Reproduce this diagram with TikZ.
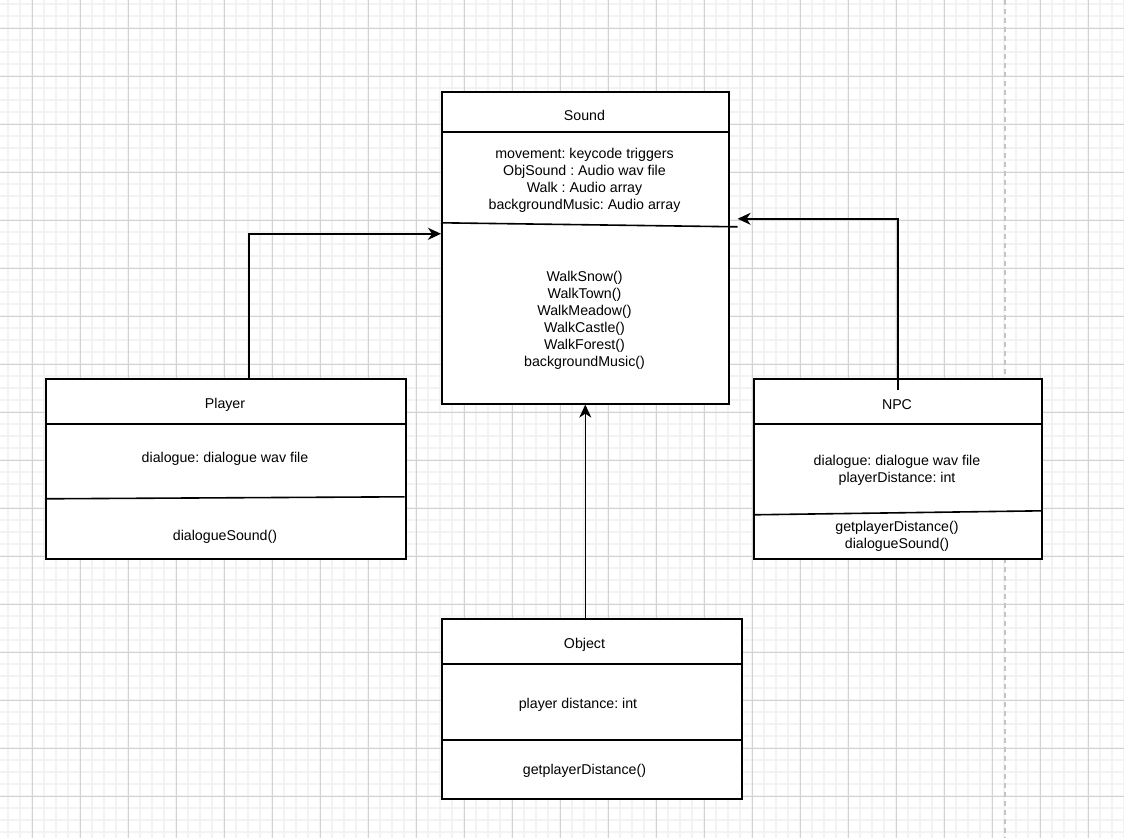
\documentclass[tikz,border=0pt]{standalone}
\usepackage{fontspec}
\setmainfont{Liberation Sans}
\usetikzlibrary{arrows.meta}
\definecolor{gridminor}{HTML}{F3F3F3}
\definecolor{gridmajor}{HTML}{D2D2D2}
\definecolor{pageedge}{HTML}{C4C4C4}
\tikzset{
  minorline/.style={draw=gridminor, line width=1.5pt},
  majorline/.style={draw=gridmajor, line width=1pt},
  classbox/.style={draw=black, fill=white, line width=1.6pt, anchor=north west, inner sep=0pt},
  divider/.style={draw=black, line width=1.6pt},
  label/.style={font=\fontsize{14.2}{17}\selectfont, align=center, inner sep=0pt},
  assoc/.style={draw=black, line width=1.6pt, -{Stealth[length=13pt, width=12pt, inset=4pt]}},
}
\frenchspacing
\begin{document}
\begin{tikzpicture}[x=1pt, y=-1pt]
  \useasboundingbox (0,0) rectangle (1124,838);
  \fill[white] (0,0) rectangle (1124,838);
  % background grid
  \foreach \x in {8,20,...,1124} \draw[minorline] (\x,0) -- (\x,838);
  \foreach \y in {4,16,...,838} \draw[minorline] (0,\y) -- (1124,\y);
  \foreach \x in {32,80,...,1124} \draw[majorline] (\x,0) -- (\x,838);
  \foreach \y in {28,76,...,838} \draw[majorline] (0,\y) -- (1124,\y);
  % page boundary
  \draw[pageedge, line width=2pt, dash pattern=on 5pt off 4pt] (1005,0) -- (1005,838);

  % class boxes
  \node[classbox, minimum width=287pt, minimum height=312pt] (sound) at (441,91) {};
  \node[classbox, minimum width=360pt, minimum height=180pt] (player) at (45,378) {};
  \node[classbox, minimum width=288pt, minimum height=180pt] (npc) at (753,378) {};
  \node[classbox, minimum width=300pt, minimum height=180pt] (object) at (441,618) {};

  % compartment dividers
  \draw[divider] ([yshift=116pt]sound.west) -- ([yshift=116pt]sound.east);
  \draw[divider] ([yshift=25pt]sound.west) -- ([xshift=8pt, yshift=21pt]sound.east);
  \draw[divider] ([yshift=45pt]player.west) -- ([yshift=45pt]player.east);
  \draw[divider] ([yshift=-30pt]player.west) -- ([xshift=-2pt, yshift=-28pt]player.east);
  \draw[divider] ([yshift=45pt]npc.west) -- ([yshift=45pt]npc.east);
  \draw[divider] ([yshift=-46pt]npc.west) -- ([yshift=-42pt]npc.east);
  \draw[divider] ([yshift=45pt]object.west) -- ([yshift=45pt]object.east);
  \draw[divider] ([yshift=-31pt]object.west) -- ([yshift=-31pt]object.east);

  % Sound
  \node[label] (soundname) at (584.5,115) {Sound};
  \node[label] (soundattr) at (584.5,180) {movement: keycode triggers\\ObjSound : Audio wav file\\Walk : Audio array\\backgroundMusic: Audio array};
  \node[label] (soundops) at (584.5,320) {WalkSnow()\\WalkTown()\\WalkMeadow()\\WalkCastle()\\WalkForest()\\backgroundMusic()};

  % Player
  \node[label] (playername) at (225,405) {Player};
  \node[label] (playerattr) at (225,459) {dialogue: dialogue wav file};
  \node[label] (playerops) at (225,537) {dialogueSound()};

  % NPC
  \node[label] (npcname) at (897,405) {NPC};
  \node[label] (npcattr) at (897,470.5) {dialogue: dialogue wav file\\playerDistance: int};
  \node[label] (npcops) at (897,536) {getplayerDistance()\\dialogueSound()};

  % Object
  \node[label] (objectname) at (584.5,645) {Object};
  \node[label] (objectattr) at (578,705) {player distance: int};
  \node[label] (objectops) at (584.5,771) {getplayerDistance()};

  % associations
  \draw[assoc] ([xshift=23pt]player.north) |- ([yshift=14pt]sound.west);
  \draw[assoc] ([yshift=-12pt]npc.north) |- ([xshift=8pt, yshift=29pt]sound.east);
  \draw[assoc] (object.north -| sound.south) -- (sound.south);
\end{tikzpicture}
\end{document}
